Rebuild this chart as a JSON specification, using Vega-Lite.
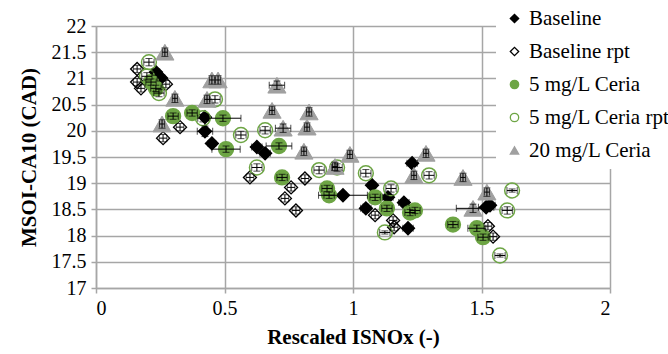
{
  "$schema": "https://vega.github.io/schema/vega-lite/v6.json",
  "width": 514,
  "height": 262,
  "autosize": {"type": "none"},
  "padding": {"left": 96, "top": 26, "right": 58, "bottom": 66},
  "background": "white",
  "data": {
    "values": [
      {"series": "Baseline", "x": 0.233, "y": 21.12, "xe": 0.015, "ye": 0.06},
      {"series": "Baseline", "x": 0.253, "y": 21.01, "xe": 0.015, "ye": 0.06},
      {"series": "Baseline", "x": 0.424, "y": 20.26, "xe": 0.015, "ye": 0.06},
      {"series": "Baseline", "x": 0.424, "y": 19.99, "xe": 0.03, "ye": 0.1},
      {"series": "Baseline", "x": 0.451, "y": 19.76, "xe": 0.015, "ye": 0.06},
      {"series": "Baseline", "x": 0.626, "y": 19.69, "xe": 0.02, "ye": 0.06},
      {"series": "Baseline", "x": 0.658, "y": 19.57, "xe": 0.02, "ye": 0.06},
      {"series": "Baseline", "x": 0.961, "y": 18.77, "xe": 0.095, "ye": 0.06},
      {"series": "Baseline", "x": 1.074, "y": 18.96, "xe": 0.015, "ye": 0.06},
      {"series": "Baseline", "x": 1.136, "y": 18.73, "xe": 0.02, "ye": 0.06},
      {"series": "Baseline", "x": 1.05, "y": 18.52, "xe": 0.02, "ye": 0.08},
      {"series": "Baseline", "x": 1.23, "y": 19.38, "xe": 0.02, "ye": 0.05},
      {"series": "Baseline", "x": 1.198, "y": 18.63, "xe": 0.02, "ye": 0.06},
      {"series": "Baseline", "x": 1.214, "y": 18.14, "xe": 0.02, "ye": 0.06},
      {"series": "Baseline", "x": 1.518, "y": 18.54, "xe": 0.03, "ye": 0.05},
      {"series": "Baseline", "x": 1.533, "y": 18.58, "xe": 0.02, "ye": 0.05},

      {"series": "Baseline rpt", "x": 0.16, "y": 21.18, "xe": 0.015, "ye": 0.07},
      {"series": "Baseline rpt", "x": 0.16, "y": 20.93, "xe": 0.015, "ye": 0.07},
      {"series": "Baseline rpt", "x": 0.175, "y": 20.81, "xe": 0.015, "ye": 0.07},
      {"series": "Baseline rpt", "x": 0.272, "y": 20.89, "xe": 0.015, "ye": 0.07},
      {"series": "Baseline rpt", "x": 0.327, "y": 20.07, "xe": 0.015, "ye": 0.07},
      {"series": "Baseline rpt", "x": 0.261, "y": 19.86, "xe": 0.015, "ye": 0.07},
      {"series": "Baseline rpt", "x": 0.599, "y": 19.11, "xe": 0.015, "ye": 0.07},
      {"series": "Baseline rpt", "x": 0.759, "y": 18.92, "xe": 0.015, "ye": 0.07},
      {"series": "Baseline rpt", "x": 0.813, "y": 19.09, "xe": 0.015, "ye": 0.07},
      {"series": "Baseline rpt", "x": 0.735, "y": 18.71, "xe": 0.015, "ye": 0.07},
      {"series": "Baseline rpt", "x": 0.778, "y": 18.48, "xe": 0.015, "ye": 0.07},
      {"series": "Baseline rpt", "x": 1.086, "y": 18.39, "xe": 0.015, "ye": 0.07},
      {"series": "Baseline rpt", "x": 1.156, "y": 18.29, "xe": 0.015, "ye": 0.07},
      {"series": "Baseline rpt", "x": 1.16, "y": 18.16, "xe": 0.015, "ye": 0.07},
      {"series": "Baseline rpt", "x": 1.545, "y": 17.98, "xe": 0.015, "ye": 0.07},
      {"series": "Baseline rpt", "x": 1.525, "y": 18.18, "xe": 0.015, "ye": 0.07},

      {"series": "5 mg/L Ceria", "x": 0.214, "y": 20.93, "xe": 0.02, "ye": 0.06},
      {"series": "5 mg/L Ceria", "x": 0.233, "y": 20.81, "xe": 0.02, "ye": 0.06},
      {"series": "5 mg/L Ceria", "x": 0.3, "y": 20.28, "xe": 0.02, "ye": 0.06},
      {"series": "5 mg/L Ceria", "x": 0.374, "y": 20.34, "xe": 0.02, "ye": 0.06},
      {"series": "5 mg/L Ceria", "x": 0.494, "y": 20.24, "xe": 0.07, "ye": 0.06},
      {"series": "5 mg/L Ceria", "x": 0.506, "y": 19.65, "xe": 0.055, "ye": 0.06},
      {"series": "5 mg/L Ceria", "x": 0.712, "y": 19.71, "xe": 0.05, "ye": 0.06},
      {"series": "5 mg/L Ceria", "x": 0.724, "y": 19.11, "xe": 0.02, "ye": 0.06},
      {"series": "5 mg/L Ceria", "x": 0.899, "y": 18.9, "xe": 0.02, "ye": 0.06},
      {"series": "5 mg/L Ceria", "x": 0.907, "y": 18.77, "xe": 0.02, "ye": 0.06},
      {"series": "5 mg/L Ceria", "x": 1.086, "y": 18.73, "xe": 0.02, "ye": 0.06},
      {"series": "5 mg/L Ceria", "x": 1.132, "y": 18.52, "xe": 0.02, "ye": 0.06},
      {"series": "5 mg/L Ceria", "x": 1.222, "y": 18.44, "xe": 0.02, "ye": 0.06},
      {"series": "5 mg/L Ceria", "x": 1.241, "y": 18.48, "xe": 0.02, "ye": 0.06},
      {"series": "5 mg/L Ceria", "x": 1.389, "y": 18.21, "xe": 0.02, "ye": 0.06},
      {"series": "5 mg/L Ceria", "x": 1.482, "y": 18.14, "xe": 0.035, "ye": 0.06},
      {"series": "5 mg/L Ceria", "x": 1.506, "y": 17.97, "xe": 0.02, "ye": 0.06},

      {"series": "5 mg/L Ceria rpt", "x": 0.206, "y": 21.31, "xe": 0.02, "ye": 0.07},
      {"series": "5 mg/L Ceria rpt", "x": 0.198, "y": 21.04, "xe": 0.02, "ye": 0.07},
      {"series": "5 mg/L Ceria rpt", "x": 0.245, "y": 20.72, "xe": 0.02, "ye": 0.07},
      {"series": "5 mg/L Ceria rpt", "x": 0.463, "y": 20.6, "xe": 0.02, "ye": 0.07},
      {"series": "5 mg/L Ceria rpt", "x": 0.416, "y": 20.24, "xe": 0.02, "ye": 0.07},
      {"series": "5 mg/L Ceria rpt", "x": 0.564, "y": 19.92, "xe": 0.02, "ye": 0.07},
      {"series": "5 mg/L Ceria rpt", "x": 0.658, "y": 20.01, "xe": 0.02, "ye": 0.07},
      {"series": "5 mg/L Ceria rpt", "x": 0.626, "y": 19.3, "xe": 0.02, "ye": 0.07},
      {"series": "5 mg/L Ceria rpt", "x": 0.868, "y": 19.25, "xe": 0.02, "ye": 0.07},
      {"series": "5 mg/L Ceria rpt", "x": 0.938, "y": 19.3, "xe": 0.02, "ye": 0.07},
      {"series": "5 mg/L Ceria rpt", "x": 1.05, "y": 19.19, "xe": 0.02, "ye": 0.07},
      {"series": "5 mg/L Ceria rpt", "x": 1.148, "y": 18.9, "xe": 0.02, "ye": 0.07},
      {"series": "5 mg/L Ceria rpt", "x": 1.296, "y": 19.15, "xe": 0.02, "ye": 0.07},
      {"series": "5 mg/L Ceria rpt", "x": 1.124, "y": 18.06, "xe": 0.02, "ye": 0.03},
      {"series": "5 mg/L Ceria rpt", "x": 1.619, "y": 18.86, "xe": 0.02, "ye": 0.03},
      {"series": "5 mg/L Ceria rpt", "x": 1.6, "y": 18.48, "xe": 0.02, "ye": 0.07},
      {"series": "5 mg/L Ceria rpt", "x": 1.572, "y": 17.62, "xe": 0.02, "ye": 0.03},

      {"series": "20 mg/L Ceria", "x": 0.268, "y": 21.5, "xe": 0.01, "ye": 0.08},
      {"series": "20 mg/L Ceria", "x": 0.451, "y": 20.97, "xe": 0.01, "ye": 0.08},
      {"series": "20 mg/L Ceria", "x": 0.475, "y": 20.97, "xe": 0.01, "ye": 0.08},
      {"series": "20 mg/L Ceria", "x": 0.307, "y": 20.62, "xe": 0.01, "ye": 0.08},
      {"series": "20 mg/L Ceria", "x": 0.432, "y": 20.6, "xe": 0.01, "ye": 0.08},
      {"series": "20 mg/L Ceria", "x": 0.257, "y": 20.13, "xe": 0.01, "ye": 0.08},
      {"series": "20 mg/L Ceria", "x": 0.704, "y": 20.87, "xe": 0.03, "ye": 0.08},
      {"series": "20 mg/L Ceria", "x": 0.685, "y": 20.39, "xe": 0.01, "ye": 0.08},
      {"series": "20 mg/L Ceria", "x": 0.728, "y": 20.05, "xe": 0.03, "ye": 0.08},
      {"series": "20 mg/L Ceria", "x": 0.829, "y": 20.36, "xe": 0.01, "ye": 0.08},
      {"series": "20 mg/L Ceria", "x": 0.821, "y": 20.07, "xe": 0.01, "ye": 0.08},
      {"series": "20 mg/L Ceria", "x": 0.809, "y": 19.61, "xe": 0.01, "ye": 0.08},
      {"series": "20 mg/L Ceria", "x": 0.988, "y": 19.55, "xe": 0.01, "ye": 0.08},
      {"series": "20 mg/L Ceria", "x": 0.93, "y": 19.32, "xe": 0.01, "ye": 0.08},
      {"series": "20 mg/L Ceria", "x": 1.284, "y": 19.57, "xe": 0.01, "ye": 0.08},
      {"series": "20 mg/L Ceria", "x": 1.237, "y": 19.15, "xe": 0.01, "ye": 0.08},
      {"series": "20 mg/L Ceria", "x": 1.428, "y": 19.11, "xe": 0.01, "ye": 0.08},
      {"series": "20 mg/L Ceria", "x": 1.521, "y": 18.83, "xe": 0.01, "ye": 0.08},
      {"series": "20 mg/L Ceria", "x": 1.467, "y": 18.52, "xe": 0.065, "ye": 0.08}
    ]
  },
  "encoding": {
    "x": {
      "field": "x", "type": "quantitative",
      "scale": {"domain": [0, 2], "nice": false, "zero": false},
      "axis": {"title": "Rescaled ISNOx (-)", "values": [0, 0.5, 1, 1.5, 2], "format": "~g"}
    },
    "y": {
      "field": "y", "type": "quantitative",
      "scale": {"domain": [17, 22], "nice": false, "zero": false},
      "axis": {"title": "MSOI-CA10 (CAD)", "values": [17, 17.5, 18, 18.5, 19, 19.5, 20, 20.5, 21, 21.5, 22], "format": "~g"}
    }
  },
  "layer": [
    {
      "transform": [{"filter": "indexof(datum.series, 'Baseline') == 0"}],
      "mark": {"type": "point", "filled": true, "size": 170, "strokeWidth": 1.3, "opacity": 1},
      "encoding": {
        "shape": {"field": "series", "type": "nominal", "title": null,
          "scale": {"domain": ["Baseline", "Baseline rpt", "5 mg/L Ceria", "5 mg/L Ceria rpt", "20 mg/L Ceria"],
                    "range": ["diamond", "diamond", "circle", "circle", "triangle-up"]}},
        "fill": {"field": "series", "type": "nominal", "title": null,
          "scale": {"domain": ["Baseline", "Baseline rpt", "5 mg/L Ceria", "5 mg/L Ceria rpt", "20 mg/L Ceria"],
                    "range": ["#000000", "transparent", "#6DA544", "transparent", "#A0A0A0"]}},
        "stroke": {"field": "series", "type": "nominal", "title": null,
          "scale": {"domain": ["Baseline", "Baseline rpt", "5 mg/L Ceria", "5 mg/L Ceria rpt", "20 mg/L Ceria"],
                    "range": ["#000000", "#000000", "#6DA544", "#6DA544", "#A0A0A0"]}}
      }
    },
    {
      "transform": [{"filter": "indexof(datum.series, '5 mg/L') == 0"}],
      "mark": {"type": "point", "filled": true, "size": 220, "strokeWidth": 1.5, "opacity": 1},
      "encoding": {
        "shape": {"field": "series", "type": "nominal", "title": null},
        "fill": {"field": "series", "type": "nominal", "title": null},
        "stroke": {"field": "series", "type": "nominal", "title": null}
      }
    },
    {
      "transform": [{"filter": "datum.series == '20 mg/L Ceria'"}],
      "mark": {"type": "point", "filled": true, "size": 330, "strokeWidth": 1, "opacity": 1},
      "encoding": {
        "shape": {"field": "series", "type": "nominal", "title": null},
        "fill": {"field": "series", "type": "nominal", "title": null},
        "stroke": {"field": "series", "type": "nominal", "title": null}
      }
    },
    {
      "mark": {"type": "errorbar", "ticks": {"size": 7, "thickness": 1, "color": "#000000"}, "rule": {"strokeWidth": 1, "color": "#000000"}},
      "encoding": {
        "x": {"field": "x", "type": "quantitative"},
        "xError": {"field": "xe"},
        "y": {"field": "y", "type": "quantitative"}
      }
    },
    {
      "mark": {"type": "errorbar", "ticks": {"size": 7, "thickness": 1, "color": "#000000"}, "rule": {"strokeWidth": 1, "color": "#000000"}},
      "encoding": {
        "y": {"field": "y", "type": "quantitative"},
        "yError": {"field": "ye"},
        "x": {"field": "x", "type": "quantitative"}
      }
    }
  ],
  "config": {
    "font": "Liberation Serif",
    "view": {"stroke": null},
    "axis": {
      "grid": true,
      "gridColor": "#A6A6A6",
      "gridWidth": 1.5,
      "domainColor": "#A6A6A6",
      "domainWidth": 1.5,
      "tickColor": "#A6A6A6",
      "tickWidth": 1.5,
      "tickSize": 5,
      "labelFont": "Liberation Serif",
      "labelFontSize": 20,
      "labelColor": "#000000",
      "labelPadding": 5,
      "titleFont": "Liberation Serif",
      "titleFontSize": 21,
      "titleFontWeight": "bold",
      "titleColor": "#000000"
    },
    "axisX": {"titlePadding": 8},
    "axisY": {"titlePadding": 12},
    "legend": {
      "orient": "none",
      "legendX": 400,
      "legendY": -26,
      "fillColor": "#FFFFFF",
      "padding": 8,
      "labelFont": "Liberation Serif",
      "labelFontSize": 21,
      "labelColor": "#000000",
      "labelOffset": 4,
      "symbolSize": 70,
      "symbolStrokeWidth": 1.3,
      "rowPadding": 11,
      "labelLimit": 300
    }
  }
}
